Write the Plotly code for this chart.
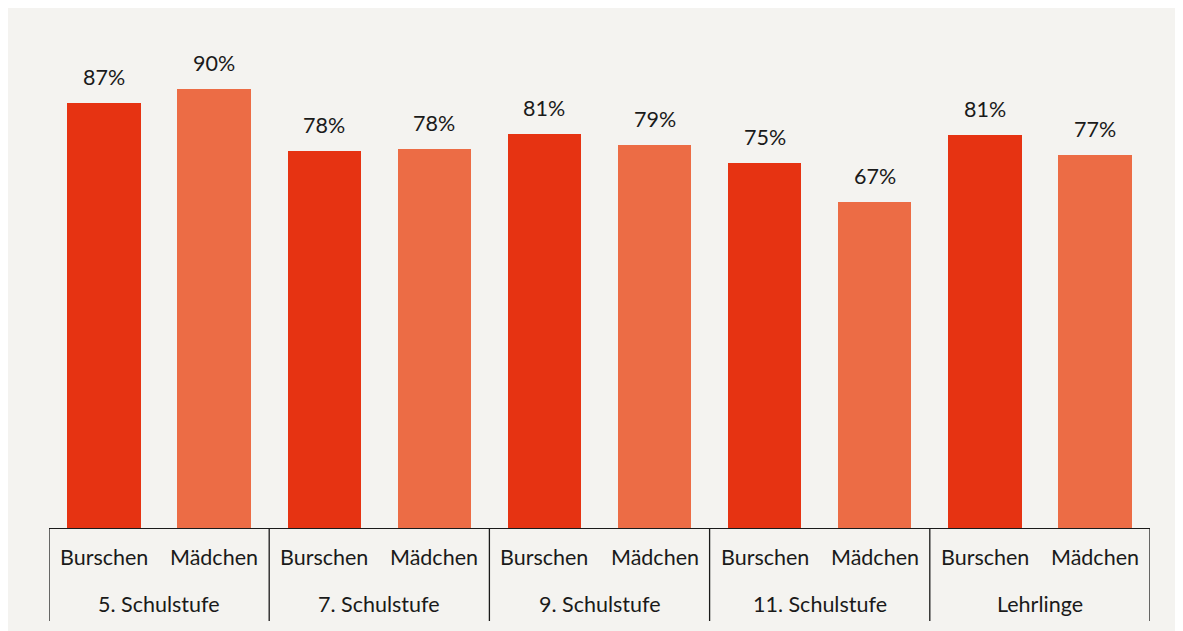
import plotly.graph_objects as go

groups = ["5. Schulstufe", "7. Schulstufe", "9. Schulstufe", "11. Schulstufe", "Lehrlinge"]
genders = ["Burschen", "Mädchen"]
burschen = [87.1, 77.3, 80.8, 74.8, 80.6]
maedchen = [89.9, 77.6, 78.5, 66.8, 76.5]
burschen_labels = ["87%", "78%", "81%", "75%", "81%"]
maedchen_labels = ["90%", "78%", "79%", "67%", "77%"]

col_b = "#e63312"
col_m = "#ec6c45"
bg = "#f4f3f0"
ink = "#1a1a1a"
font = "Lato"
fs = 21.5

xs, vals, cols, labs, cats = [], [], [], [], []
for i, g in enumerate(groups):
    for j, (v, t, c) in enumerate([(burschen[i], burschen_labels[i], col_b),
                                   (maedchen[i], maedchen_labels[i], col_m)]):
        xs.append(2 * i + j)
        vals.append(v)
        labs.append(t)
        cols.append(c)
        cats.append(genders[j])

fig = go.Figure()
fig.add_trace(go.Bar(x=xs, y=vals, marker=dict(color=cols, line=dict(width=0)),
                     width=0.667, hoverinfo="skip"))

# value labels
for x, v, t in zip(xs, vals, labs):
    fig.add_annotation(x=x, y=v, text=t, showarrow=False, yanchor="bottom", yshift=11,
                       font=dict(family=font, size=fs, color=ink))

# category row labels
for x, c in zip(xs, cats):
    fig.add_annotation(x=x, y=0, xref="x", yref="paper", text=c, showarrow=False,
                       yanchor="middle", yshift=-29, font=dict(family=font, size=fs, color=ink))

# group row labels and dividers
div_len = 93 / 488
for i, g in enumerate(groups):
    fig.add_annotation(x=2 * i + 0.5, y=0, xref="x", yref="paper", text=g, showarrow=False,
                       yanchor="middle", yshift=-76, font=dict(family=font, size=fs, color=ink))
for i in range(len(groups) + 1):
    fig.add_shape(type="line", xref="x", yref="paper", x0=2 * i - 0.5, x1=2 * i - 0.5,
                  y0=0, y1=-div_len, line=dict(color=ink, width=1.3))

fig.update_layout(
    width=1175, height=623,
    margin=dict(l=41, r=33, t=32, b=103),
    paper_bgcolor=bg, plot_bgcolor=bg,
    showlegend=False, bargap=0,
    font=dict(family=font, size=fs, color=ink),
    xaxis=dict(range=[-0.5, 9.5], showline=True, linecolor=ink, linewidth=1.3,
               showticklabels=False, ticks="", showgrid=False, zeroline=False, fixedrange=True),
    yaxis=dict(range=[0, 100], visible=False, showgrid=False, zeroline=False, fixedrange=True),
)

fig.write_html(
    "out.html",
    post_script="document.documentElement.style.overflow='hidden';document.body.style.overflow='hidden';",
)
